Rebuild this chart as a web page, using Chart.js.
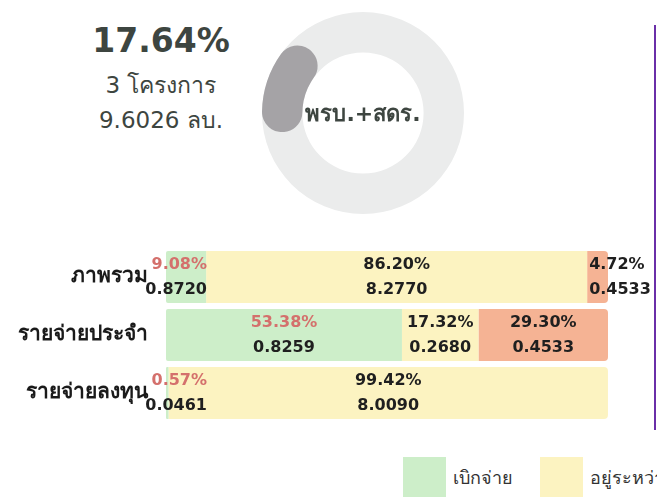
<!DOCTYPE html>
<html>
<head>
<meta charset="utf-8">
<script src="https://cdn.jsdelivr.net/npm/chart.js@4.4.1/dist/chart.umd.min.js"></script>
<style>
body { margin: 0; background: #fff; }
#page { position: relative; width: 657px; height: 501px; overflow: hidden; font-family: "DejaVu Sans", sans-serif; color: #3d4540; }
#kpi { position: absolute; left: 61px; top: 21px; width: 200px; text-align: center; }
#kpi .big { font-size: 33px; font-weight: bold; line-height: 40px; }
#kpi .small { font-size: 23px; line-height: 35px; }
#kpi .first { margin-top: 7px; }
#donutBox { position: absolute; left: 250px; top: 0; }
#barBox { position: absolute; left: 0; top: 248px; }
#legend { position: absolute; left: 403px; top: 457px; white-space: nowrap; }
#legend .item { display: inline-block; margin-right: 27px; }
#legend .box { display: inline-block; width: 43px; height: 40px; vertical-align: middle; }
#legend .txt { display: inline-block; vertical-align: middle; margin-left: 7px; font-size: 18px; color: #333; }
#rule { position: absolute; left: 654px; top: 25px; width: 2px; height: 405px; background: #6a2fa8; }
</style>
</head>
<body>
<div id="page">
  <div id="kpi"></div>
  <div id="donutBox"><canvas id="donut" width="226" height="226"></canvas></div>
  <div id="barBox"><canvas id="bars" width="657" height="174"></canvas></div>
  <div id="legend"></div>
  <div id="rule"></div>
</div>
<script>
// headline numbers
var overallPct = 17.64;
var remainingPct = 82.36;
var projectCount = 3;
var budgetTotal = 9.6026;
var donutTitle = 'พรบ.+สดร.';

// stacked bars
var categories = ['ภาพรวม', 'รายจ่ายประจำ', 'รายจ่ายลงทุน'];
var seriesNames = ['เบิกจ่าย', 'อยู่ระหว่างดำเนินการ', 'ยังไม่ดำเนินการ'];
var disbursedPct = [9.08, 53.38, 0.57];
var pendingPct = [86.20, 17.32, 99.42];
var notStartedPct = [4.72, 29.30, 0];
var disbursedAmt = [0.8720, 0.8259, 0.0461];
var pendingAmt = [8.2770, 0.2680, 8.0090];
var notStartedAmt = [0.4533, 0.4533, 0];

var colors = ['#cdeec9', '#fcf3c1', '#f5b394'];

window.addEventListener('load', function() {
    fillKpi();
    drawDonut();
    drawBars();
    fillLegend();
});

function fillKpi(){
    document.getElementById('kpi').innerHTML =
        '<div class="big">' + overallPct.toFixed(2) + '%</div>' +
        '<div class="small first">' + projectCount + ' โครงการ</div>' +
        '<div class="small">' + budgetTotal.toFixed(4) + ' ลบ.</div>';
}

var ringBehind = {
    id: 'ringBehind',
    beforeDatasetsDraw: function(chart) {
        var arc = chart.getDatasetMeta(0).data[0];
        if (!arc) return;
        var ctx = chart.ctx;
        ctx.save();
        ctx.beginPath();
        ctx.arc(arc.x, arc.y, arc.outerRadius, 0, Math.PI * 2);
        ctx.arc(arc.x, arc.y, arc.innerRadius, 0, Math.PI * 2, true);
        ctx.fillStyle = '#ebecec';
        ctx.fill();
        ctx.restore();
    }
};

var centerText = {
    id: 'centerText',
    afterDatasetsDraw: function(chart) {
        var arc = chart.getDatasetMeta(0).data[0];
        var ctx = chart.ctx;
        ctx.save();
        ctx.font = 'bold 22px "DejaVu Sans", sans-serif';
        ctx.fillStyle = '#3d4540';
        ctx.textAlign = 'center';
        ctx.textBaseline = 'middle';
        ctx.fillText(donutTitle, arc.x, arc.y + 2);
        ctx.restore();
    }
};

function drawDonut(){
    new Chart(document.getElementById('donut'), {
        type: 'doughnut',
        data: {
            labels: [donutTitle, 'คงเหลือ'],
            datasets: [{
                data: [overallPct, remainingPct],
                backgroundColor: ['#a5a3a6', 'rgba(0,0,0,0)'],
                borderWidth: 0,
                borderRadius: function(c) { return c.dataIndex === 0 ? 20 : 0; }
            }]
        },
        options: {
            responsive: false,
            animation: false,
            rotation: 256.5,
            cutout: '60%',
            layout: { padding: 12 },
            plugins: { legend: { display: false }, tooltip: { enabled: false } }
        },
        plugins: [ringBehind, centerText]
    });
}

var segmentLabels = {
    id: 'segmentLabels',
    afterDatasetsDraw: function(chart) {
        var ctx = chart.ctx;
        var sets = chart.data.datasets;
        ctx.save();
        ctx.font = 'bold 16px "DejaVu Sans", sans-serif';
        ctx.textBaseline = 'middle';
        sets.forEach(function(ds, di) {
            var meta = chart.getDatasetMeta(di);
            meta.data.forEach(function(bar, i) {
                if (!ds.data[i]) return;
                var pct = ds.data[i].toFixed(2) + '%';
                var amt = ds.amounts[i].toFixed(4);
                var w = Math.max(ctx.measureText(pct).width, ctx.measureText(amt).width);
                var left = Math.min(bar.x, bar.base), right = Math.max(bar.x, bar.base);
                var x, align = 'center';
                if (right - left >= w + 4) {
                    x = (left + right) / 2;
                } else if (di === sets.length - 1) {
                    x = left + 2; align = 'left';
                } else {
                    x = chart.chartArea.left + 41; align = 'right';
                }
                ctx.textAlign = align;
                ctx.fillStyle = ds.pctColor;
                ctx.fillText(pct, x, bar.y - 12);
                ctx.fillStyle = '#1f1f1f';
                ctx.fillText(amt, x, bar.y + 13);
            });
        });
        ctx.restore();
    }
};

function drawBars(){
    new Chart(document.getElementById('bars'), {
        type: 'bar',
        data: {
            labels: categories,
            datasets: [
                {
                    label: seriesNames[0], data: disbursedPct, amounts: disbursedAmt,
                    backgroundColor: colors[0], pctColor: '#d4706c',
                    borderRadius: { topLeft: 2, bottomLeft: 2, topRight: 0, bottomRight: 0 }
                },
                {
                    label: seriesNames[1], data: pendingPct, amounts: pendingAmt,
                    backgroundColor: colors[1], pctColor: '#1f1f1f',
                    borderRadius: function(c) {
                        return notStartedPct[c.dataIndex] > 0 ? { topLeft: 0, topRight: 0, bottomLeft: 0, bottomRight: 0 }
                                                              : { topLeft: 0, bottomLeft: 0, topRight: 4, bottomRight: 4 };
                    }
                },
                {
                    label: seriesNames[2], data: notStartedPct, amounts: notStartedAmt,
                    backgroundColor: colors[2], pctColor: '#1f1f1f',
                    borderRadius: { topLeft: 0, bottomLeft: 0, topRight: 4, bottomRight: 4 }
                }
            ]
        },
        options: {
            indexAxis: 'y',
            responsive: false,
            animation: false,
            layout: { padding: { right: 49, top: 0, bottom: 0, left: 0 } },
            datasets: { bar: { categoryPercentage: 1, barPercentage: 0.9, borderSkipped: false, borderWidth: 0 } },
            scales: {
                x: { stacked: true, min: 0, max: 100, display: false },
                y: {
                    stacked: true,
                    grid: { display: false, drawTicks: false },
                    border: { display: false },
                    ticks: { padding: 18, color: '#1a1a1a', font: { family: '"DejaVu Sans", sans-serif', size: 21, weight: 'bold' } },
                    afterFit: function(axis) {
                        axis.width = 166;
                        axis.paddingTop = 0;
                        axis.paddingBottom = 0;
                    }
                }
            },
            plugins: { legend: { display: false }, tooltip: { enabled: false } }
        },
        plugins: [segmentLabels]
    });
}

function fillLegend(){
    var html = '';
    seriesNames.forEach(function(name, i) {
        html += '<span class="item"><span class="box" style="background:' + colors[i] + '"></span>' +
                '<span class="txt">' + name + '</span></span>';
    });
    document.getElementById('legend').innerHTML = html;
}
</script>
</body>
</html>
